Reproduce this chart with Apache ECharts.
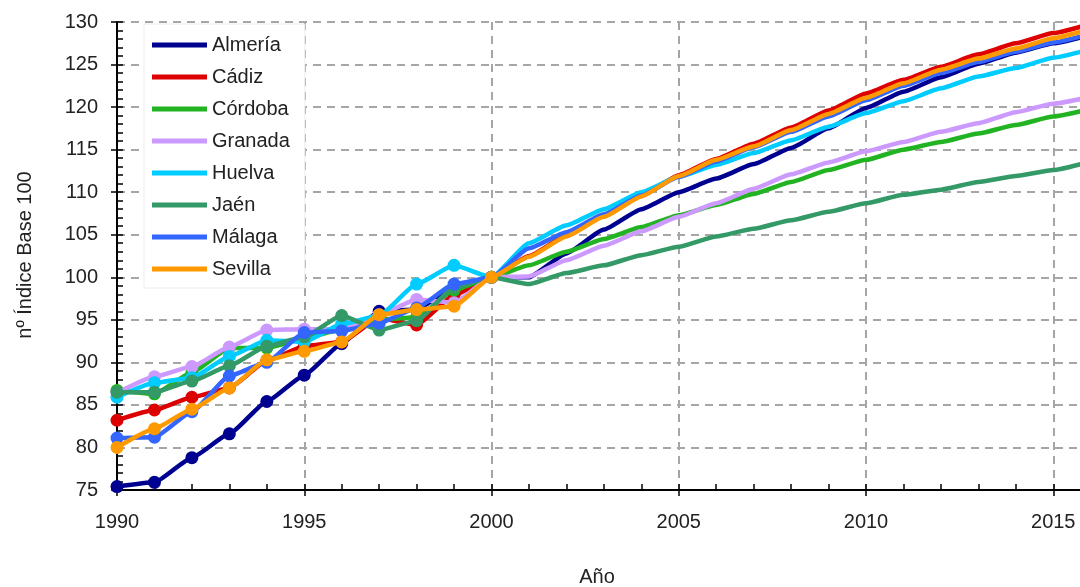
<!DOCTYPE html>
<html>
<head>
<meta charset="utf-8">
<script src="https://cdn.jsdelivr.net/npm/echarts@6/dist/echarts.min.js"></script>
<style>html,body{margin:0;padding:0;background:#fff;}#c{width:1080px;height:587px;}</style>
</head>
<body>
<div id="c"></div>
<script>
const years = [1990,1991,1992,1993,1994,1995,1996,1997,1998,1999,2000,2001,2002,2003,2004,2005,2006,2007,2008,2009,2010,2011,2012,2013,2014,2015,2016];
const names = ['Almería','Cádiz','Córdoba','Granada','Huelva','Jaén','Málaga','Sevilla'];
const almeria = [75.4,75.9,78.8,81.6,85.4,88.5,92.2,96.0,96.2,98.9,100,100.0,102.8,105.6,108.0,110.0,111.6,113.3,115.2,117.5,119.9,121.8,123.5,125.1,126.4,127.5,128.5];
const cadiz   = [83.2,84.4,85.9,87.0,90.2,91.9,92.4,95.2,94.4,97.9,100,102.5,104.9,107.2,109.6,112.0,113.9,115.7,117.6,119.6,121.6,123.2,124.75,126.2,127.5,128.7,129.8];
const cordoba = [86.7,86.3,88.8,91.7,91.7,92.8,93.9,95.0,95.3,98.5,100,101.4,103.0,104.5,105.9,107.3,108.5,109.8,111.2,112.6,113.8,115.0,115.9,116.9,117.9,118.9,119.8];
const granada = [86.4,88.3,89.5,91.8,93.8,93.9,93.9,95.6,97.4,97.0,100,100.1,102.0,103.7,105.4,107.1,108.7,110.4,112.1,113.5,114.8,115.9,117.1,118.1,119.4,120.4,121.2];
const huelva  = [85.9,87.6,88.2,90.7,92.6,92.4,94.5,95.5,99.2,101.4,100,104.0,106.1,108.0,110.0,111.8,113.2,114.6,116.1,117.7,119.3,120.7,122.2,123.6,124.6,125.8,126.8];
const jaen    = [86.5,86.5,87.8,89.6,91.9,93.0,95.5,93.8,94.9,98.8,100,99.2,100.5,101.4,102.6,103.6,104.8,105.7,106.7,107.7,108.7,109.7,110.3,111.2,111.9,112.6,113.6];
const malaga  = [81.1,81.2,84.2,88.4,90.0,93.5,93.7,94.6,96.4,99.2,100,103.4,105.3,107.4,109.6,111.8,113.6,115.3,117.1,118.9,120.8,122.5,124.0,125.3,126.5,127.6,128.6];
const sevilla = [80.0,82.2,84.5,87.0,90.3,91.3,92.4,95.6,96.2,96.6,100,102.4,104.8,107.1,109.5,111.9,113.8,115.4,117.3,119.2,121.1,122.8,124.4,125.7,126.9,128.1,129.2];
const values = [almeria,cadiz,cordoba,granada,huelva,jaen,malaga,sevilla];
const colors = ['#000090','#DD0000','#22B322','#CC99FF','#00CCFF','#339966','#3366FF','#FF9900'];

const FONT = 'Liberation Sans';
const chart = echarts.init(document.getElementById('c'));
const dash = {type:[8,6], color:'#A6A6A6', width:2};
const series = names.map((n,i)=>({
  name:n, type:'line', xAxisIndex:0, yAxisIndex:0,
  data: years.map((y,j)=>[y, values[i][j]]),
  color: colors[i],
  lineStyle:{width:4.5, color:colors[i]},
  itemStyle:{color:colors[i]},
  symbol:'circle', showSymbol:true,
  symbolSize: v => v[0] <= 2000 ? 13 : 0,
  smooth:0.15, smoothMonotone:'x',
  z: 2+i, animation:false
}));
chart.setOption({
  animation:false,
  grid: {left:117, top:22, width:1123.5, height:468, outerBoundsMode:'none', containLabel:false},
  legend:{
    left:144, top:24, orient:'vertical',
    padding:[11,15,9,8],
    backgroundColor:'#ffffff', borderColor:'#ececec', borderWidth:1,
    icon:'rect', itemWidth:55, itemHeight:5, itemGap:12,
    textStyle:{fontFamily:FONT, fontSize:20, color:'#222', lineHeight:20},
    data:names
  },
  xAxis:[{
    type:'value', min:1990, max:2020, interval:5,
    axisLine:{show:true, onZero:false, lineStyle:{color:'#000', width:2}},
    axisTick:{show:true, length:6, lineStyle:{color:'#000', width:1.5}},
    axisLabel:{fontFamily:FONT, fontSize:20, color:'#222', margin:22, formatter: v => String(v)},
    splitLine:{show:true, lineStyle:dash}
  },{
    type:'value', min:1990, max:2020, interval:1, position:'bottom',
    axisLine:{show:false}, axisLabel:{show:false}, splitLine:{show:false},
    axisTick:{show:true, inside:true, length:6, lineStyle:{color:'#000', width:1.5}}
  }],
  yAxis:[{
    type:'value', min:75, max:130, interval:5,
    axisLine:{show:true, onZero:false, lineStyle:{color:'#000', width:2}},
    axisTick:{show:true, length:6, lineStyle:{color:'#000', width:1.5}},
    axisLabel:{fontFamily:FONT, fontSize:20, color:'#222', margin:19},
    splitLine:{show:true, lineStyle:dash}
  },{
    type:'value', min:75, max:130, interval:1, position:'left',
    axisLine:{show:false}, axisLabel:{show:false}, splitLine:{show:false},
    axisTick:{show:true, inside:true, length:6, lineStyle:{color:'#000', width:1.5}}
  }],
  graphic:[
    {type:'text', x:25, y:255, rotation:Math.PI/2, z:100,
     style:{text:'nº Índice Base 100', fontFamily:FONT, fontSize:20, fill:'#222', textAlign:'center', textVerticalAlign:'middle'}},
    {type:'text', x:597, y:577, z:100,
     style:{text:'Año', fontFamily:FONT, fontSize:20, fill:'#222', textAlign:'center', textVerticalAlign:'middle'}}
  ],
  series: series
});
</script>
</body>
</html>
